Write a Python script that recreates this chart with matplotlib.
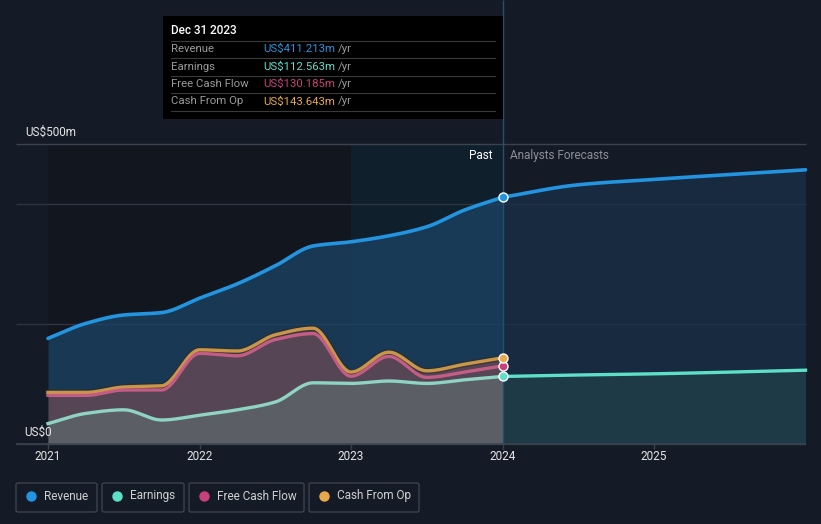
import numpy as np
import matplotlib
matplotlib.use("Agg")
import matplotlib.pyplot as plt
from matplotlib.patches import Rectangle, FancyBboxPatch

plt.rcParams['font.family'] = ['Roboto', 'DejaVu Sans']

# ---- data (US$m, trailing twelve months) ----
past_t = [2021.0, 2021.25, 2021.5, 2021.75, 2022.0, 2022.25, 2022.5,
          2022.75, 2023.0, 2023.25, 2023.5, 2023.75, 2024.0]
revenue = [176, 201, 215, 219, 243, 267, 297, 330, 337, 347, 362, 390, 411.213]
earnings = [34, 51, 57, 40, 48, 57, 70, 102, 101, 105, 101, 107, 112.563]
fcf = [81, 81, 90, 90, 151, 147, 174, 184, 113, 146, 111, 120, 130.185]
cfo = [86, 86, 95, 97, 157, 155, 182, 193, 120, 153, 122, 133, 143.643]

fc_t = [2024.0, 2024.5, 2025.0, 2026.0]
revenue_fc = [411.213, 432, 441, 457]
earnings_fc = [112.563, 115, 117, 123]

years = [2021, 2022, 2023, 2024, 2025]
series_names = ['Revenue', 'Earnings', 'Free Cash Flow', 'Cash From Op']
colors = {'Revenue': '#2394df', 'Earnings': '#5ee0c8',
          'Free Cash Flow': '#c8407a', 'Cash From Op': '#e8a94a'}

BG = '#151b26'
W, H = 821, 524


def smooth(x, y, n=40):
    """monotone cubic (Fritsch-Carlson) for drawing the line smoothly"""
    x = np.asarray(x, float)
    y = np.asarray(y, float)
    h = np.diff(x)
    d = np.diff(y) / h
    m = np.zeros_like(y)
    m[0], m[-1] = d[0], d[-1]
    for i in range(1, len(y) - 1):
        if d[i - 1] * d[i] <= 0:
            m[i] = 0
        else:
            m[i] = 3 * (h[i - 1] + h[i]) / ((2 * h[i] + h[i - 1]) / d[i - 1] + (h[i] + 2 * h[i - 1]) / d[i])
    xs, ys = [], []
    for i in range(len(h)):
        t = np.linspace(0, 1, n, endpoint=(i == len(h) - 1))
        h00 = 2 * t**3 - 3 * t**2 + 1
        h10 = t**3 - 2 * t**2 + t
        h01 = -2 * t**3 + 3 * t**2
        h11 = t**3 - t**2
        xs.append(x[i] + t * h[i])
        ys.append(h00 * y[i] + h10 * h[i] * m[i] + h01 * y[i + 1] + h11 * h[i] * m[i + 1])
    return np.concatenate(xs), np.concatenate(ys)


fig = plt.figure(figsize=(W / 100, H / 100), dpi=100)
fig.patch.set_facecolor(BG)
ax = fig.add_axes([0, 0, 1, 1])
ax.set_facecolor(BG)
ax.axis('off')

# pixel mapping: 2021 -> x=48, 151.5 px per year; US$0 -> y=444, 0.6 px per m
px_year, x0 = 151.5, 48
ax.set_xlim(2021 - x0 / px_year, 2021 + (W - x0) / px_year)
ax.set_ylim((444 - H) / 0.6, 444 / 0.6)


def fx(px):
    return px / W


def fy(py):
    return 1 - py / H


x_left = 2021 - 32 / px_year
x_right = 2026.0

# background bands
ax.add_patch(Rectangle((2021, 0), 2.0, 500, facecolor='#11161f', edgecolor='none', zorder=0))
ax.add_patch(Rectangle((2023, 0), 1.0, 500, facecolor='#0f1f2c', edgecolor='none', zorder=0))

# gridlines
for v in [0, 200, 400]:
    ax.hlines(v, x_left, x_right, color='#2e3440', lw=1, zorder=1)
ax.hlines(500, x_left, x_right, color='#3d434e', lw=1, zorder=1)
ax.hlines(0, x_left, x_right, color='#3d434e', lw=1.2, zorder=6)
for yr in years:
    ax.vlines(yr, -5 / 0.6, 0, color='#3d434e', lw=1, zorder=6)
    ax.text(yr, -13 / 0.6, str(yr), color='#e6e6e6', fontsize=8.5,
            ha='center', va='center', zorder=7)

# revenue
rx, ry = smooth(past_t, revenue)
ax.fill_between(rx, 0, ry, color='#1c4466', alpha=0.75, lw=0, zorder=2)
fx_, fy_ = smooth(fc_t, revenue_fc)
ax.fill_between(fx_, 0, fy_, color='#1a3048', alpha=0.75, lw=0, zorder=2)
ax.plot(rx, ry, color=colors['Revenue'], lw=2.6, zorder=5, solid_capstyle='round')
ax.plot(fx_, fy_, color=colors['Revenue'], lw=2.6, zorder=5, solid_capstyle='round')

# cash from op / free cash flow
cx, cy = smooth(past_t, cfo)
px_, py_ = smooth(past_t, fcf)
ax.fill_between(cx, 0, cy, color='#6b4a55', alpha=0.75, lw=0, zorder=3)
ax.plot(cx, cy, color='#2a2a2a', lw=4.5, zorder=4, alpha=0.5)
ax.plot(cx, cy, color=colors['Cash From Op'], lw=2.4, zorder=4, alpha=0.85)
ax.plot(px_, py_, color='#d0608a', lw=2.4, zorder=4, alpha=0.9)

# earnings
ex, ey = smooth(past_t, earnings)
ax.fill_between(ex, 0, ey, color='#5d6068', alpha=0.95, lw=0, zorder=4)
ax.plot(ex, ey, color='#8fd4c2', lw=2.4, zorder=5)
efx, efy = smooth(fc_t, earnings_fc)
ax.fill_between(efx, 0, efy, color='#22484c', alpha=0.55, lw=0, zorder=2)
ax.plot(efx, efy, color=colors['Earnings'], lw=2.4, zorder=5)

# divider line at latest data
ax.vlines(past_t[-1], 0, 740, color='#24506f', lw=1, zorder=5)

# end markers
for name, vals in zip(series_names, [revenue, earnings, fcf, cfo]):
    ax.scatter([past_t[-1]], [vals[-1]], s=42, color=colors[name],
               edgecolor='white', linewidth=1, zorder=8)

# Past / forecasts labels
fig.text(fx(493), fy(156), 'Past', color='white', fontsize=8.5, ha='right', va='center')
fig.text(fx(510), fy(156), 'Analysts Forecasts', color='#8a8f98', fontsize=8.5,
         ha='left', va='center')

# y labels
fig.text(fx(25), fy(132), 'US$500m', color='#e6e6e6', fontsize=8.5, ha='left', va='center')
fig.text(fx(24), fy(432), 'US$0', color='#e6e6e6', fontsize=8.5, ha='left', va='center')

# tooltip
fig.patches.append(Rectangle((fx(163), fy(119)), (503 - 163) / W, (119 - 16) / H,
                             transform=fig.transFigure, facecolor='black',
                             edgecolor='none', zorder=10))
fig.text(fx(171), fy(31), 'Dec 31 2023', color='white', fontsize=8.5,
         ha='left', va='center', zorder=11, fontweight='medium')
renderer = fig.canvas.get_renderer()
values = [revenue[-1], earnings[-1], fcf[-1], cfo[-1]]
for i, (name, val) in enumerate(zip(series_names, values)):
    yy = 49 + i * 17.5
    fig.add_artist(plt.Line2D([fx(171), fx(495)], [fy(yy - 8.5), fy(yy - 8.5)],
                              color='#3a3a3a', lw=0.8, zorder=11))
    fig.text(fx(171), fy(yy), name, color='#9a9a9a', fontsize=8.2,
             ha='left', va='center', zorder=11)
    t = fig.text(fx(263), fy(yy), f'US${val:.3f}m', color=colors[name], fontsize=8.2,
                 ha='left', va='center', zorder=11)
    bb = t.get_window_extent(renderer)
    fig.text(bb.x1 / W + fx(3), fy(yy), '/yr', color='#9a9a9a', fontsize=8.2,
             ha='left', va='center', zorder=11)
fig.add_artist(plt.Line2D([fx(171), fx(495)], [fy(111), fy(111)],
                          color='#3a3a3a', lw=0.8, zorder=11))

# legend boxes
boxes = [(16, 97), (102, 184), (189, 304), (309, 419)]
for (l, r), name in zip(boxes, series_names):
    fig.patches.append(FancyBboxPatch((fx(l), fy(512)), (r - l) / W, 29 / H,
                                      boxstyle='round,pad=0,rounding_size=0.003',
                                      transform=fig.transFigure, facecolor='none',
                                      edgecolor='#3d434e', lw=1))
    fig.add_artist(plt.Line2D([fx(l + 15)], [fy(496)], marker='o', markersize=6.5,
                              color=colors[name], lw=0))
    fig.text(fx(l + 28), fy(496), name, color='#d0d0d0', fontsize=8.5,
             ha='left', va='center')

fig.savefig('out.png', dpi=100, facecolor=BG)
